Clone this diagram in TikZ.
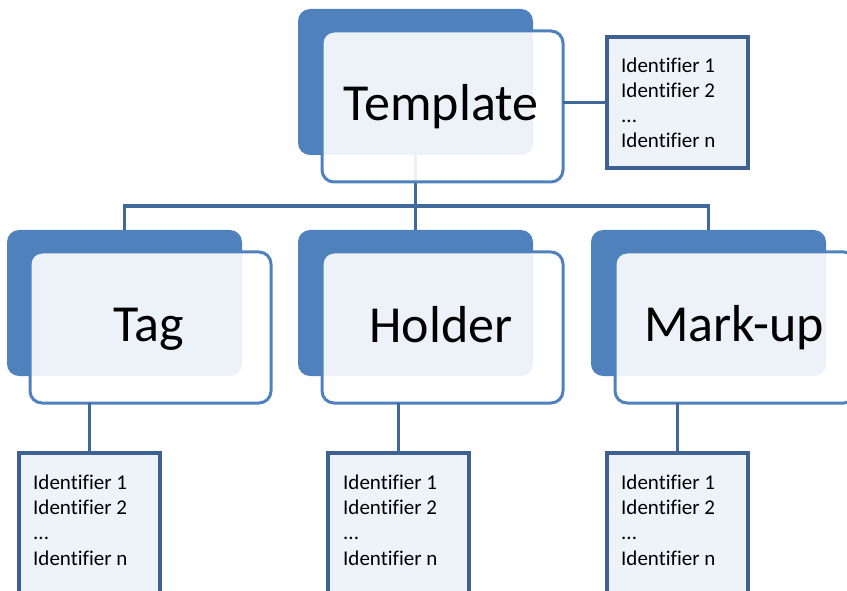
\documentclass[tikz,border=0pt]{standalone}
\usepackage{fontspec}
\setmainfont{Carlito}[Ligatures=NoCommon]
\usetikzlibrary{calc}
\definecolor{backblue}{HTML}{4F81BD}
\definecolor{frontblue}{HTML}{4F81BD}
\definecolor{connblue}{HTML}{41699B}
\definecolor{idborder}{HTML}{3D6190}
\definecolor{idfill}{HTML}{EEF3FA}
\begin{document}
\begin{tikzpicture}[x=1pt,y=-1pt,
  backbox/.style={fill=backblue, draw=none, rounded corners=12pt,
    minimum width=235pt, minimum height=146pt, anchor=north west,
    inner sep=0pt, outer sep=0pt},
  frontbox/.style={fill=white, fill opacity=0.9, draw=frontblue, line width=3pt,
    rounded corners=12pt, minimum width=241pt, minimum height=151pt,
    anchor=north west, inner sep=0pt, outer sep=0pt},
  bigtext/.style={font=\fontsize{52}{60}\selectfont, anchor=base, inner sep=0pt, text=black},
  idbox/.style={fill=idfill, draw=idborder, line width=3.2pt, minimum width=141pt,
    anchor=north west, inner sep=0pt, outer sep=0pt},
  idtext/.style={font=\fontsize{21}{25.3}\selectfont, align=left, anchor=base west,
    inner sep=0pt, text=black},
  conn/.style={draw=connblue, line width=3.2pt}]
\useasboundingbox (0,0) rectangle (847,591);

% back boxes
\node[backbox] (tback) at (298,9) {};
\node[backbox] (tagback) at (7,230) {};
\node[backbox] (hback) at (298,230) {};
\node[backbox] (mback) at (591,230) {};

% identifier boxes
\node[idbox, minimum height=131pt] (tid) at (607,37) {};
\node[idbox, minimum height=150pt] (tagid) at (19,453) {};
\node[idbox, minimum height=150pt] (hid) at (328,453) {};
\node[idbox, minimum height=150pt] (mid) at (607,453) {};

% connectors
\coordinate (hub) at (415,206);
\draw[conn] (tback.south) -- (hback.north);
\draw[conn] (tagback.north) -- (tagback.north |- hub) -- (mback.north |- hub) -- (mback.north);

% front boxes
\node[frontbox] (tfront) at (322,31) {};
\node[frontbox] (tagfront) at (30,252) {};
\node[frontbox] (hfront) at (322,252) {};
\node[frontbox] (mfront) at (615,252) {};

\draw[conn] (tid.west -| tfront.east) -- (tid.west);
\draw[conn] (tagfront.south -| tagid.north) -- (tagid.north);
\draw[conn] (hfront.south -| hid.north) -- (hid.north);
\draw[conn] (mfront.south -| mid.north) -- (mid.north);

% redraw id boxes on top of connectors
\node[idbox, minimum height=131pt] at (607,37) {};
\node[idbox, minimum height=150pt] at (19,453) {};
\node[idbox, minimum height=150pt] at (328,453) {};
\node[idbox, minimum height=150pt] at (607,453) {};

% texts
\node[bigtext] (ttext) at (441,121) {Template};
\node[bigtext] (tagtext) at (149,341) {Tag};
\node[bigtext] (htext) at (441,342) {Holder};
\node[bigtext] (mtext) at (734,341) {Mark-up};

\node[idtext] (tidt) at (621,148) {Identifier 1\\Identifier 2\\...\\Identifier n};
\node[idtext] (tagidt) at (33,565) {Identifier 1\\Identifier 2\\...\\Identifier n};
\node[idtext] (hidt) at (343,565) {Identifier 1\\Identifier 2\\...\\Identifier n};
\node[idtext] (midt) at (621,565) {Identifier 1\\Identifier 2\\...\\Identifier n};
\end{tikzpicture}
\end{document}
